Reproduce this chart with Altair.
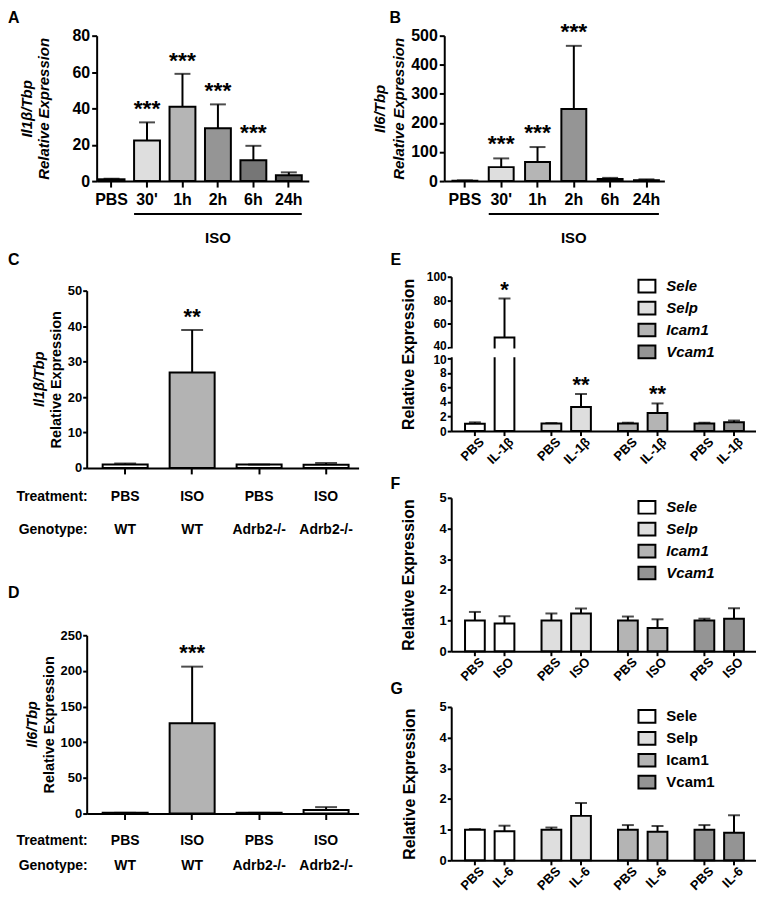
import altair as alt
import pandas as pd

FONT = "Liberation Sans"

# ---------------- Panel A / B : time course after ISO ----------------
time_cats = ["PBS", "30'", "1h", "2h", "6h", "24h"]
time_fill = ["#ffffff", "#dedede", "#b5b5b5", "#959595", "#767676", "#555555"]
a_mean = [1.0, 22.3, 40.9, 29.0, 11.5, 3.2]
a_top = [1.3, 32.3, 59.0, 42.2, 19.4, 4.8]
a_sig = ["", "***", "***", "***", "***", ""]
a_ticks = [0, 20, 40, 60, 80]

b_mean = [1.5, 48.0, 66.0, 248.0, 7.0, 3.0]
b_top = [2.5, 78.0, 117.0, 465.0, 11.0, 6.0]
b_sig = ["", "***", "***", "***", "", ""]
b_ticks = [0, 100, 200, 300, 400, 500]

iso_group = {"start": "30'", "end": "24h", "mid": "2h", "label": "ISO"}

# ---------------- Panel C / D : genotype ----------------
geno_keys = ["PBS-WT", "ISO-WT", "PBS-KO", "ISO-KO"]
geno_treat = ["PBS", "ISO", "PBS", "ISO"]
geno_type = ["WT", "WT", "Adrb2-/-", "Adrb2-/-"]
geno_fill = ["#ffffff", "#b3b3b3", "#ffffff", "#ffffff"]
c_mean = [1.0, 26.9, 0.95, 0.9]
c_top = [1.25, 38.9, 0.95, 1.4]
c_sig = ["", "**", "", ""]
c_ticks = [0, 10, 20, 30, 40, 50]
d_mean = [1.0, 126.6, 1.0, 5.0]
d_top = [1.0, 206.0, 1.0, 9.0]
d_sig = ["", "***", "", ""]
d_ticks = [0, 50, 100, 150, 200, 250]

# ---------------- Panel E / F / G : endothelial genes ----------------
genes = ["Sele", "Selp", "Icam1", "Vcam1"]
gene_fill = ["#ffffff", "#dedede", "#b4b4b4", "#949494"]
conds = ["control", "stimulus"]
e_labels = ["PBS", "IL-1β"]
f_labels = ["PBS", "ISO"]
g_labels = ["PBS", "IL-6"]
e_mean = [1.0, 48.5, 1.05, 3.3, 1.05, 2.5, 1.05, 1.2]
e_top = [1.2, 81.5, 1.1, 5.1, 1.15, 3.8, 1.15, 1.45]
e_sig = ["", "*", "", "**", "", "**", "", ""]
f_mean = [1.0, 0.9, 1.0, 1.23, 1.0, 0.76, 1.0, 1.06]
f_top = [1.28, 1.14, 1.23, 1.39, 1.13, 1.04, 1.06, 1.4]
g_mean = [1.0, 0.95, 1.0, 1.45, 1.0, 0.93, 1.0, 0.9]
g_top = [1.02, 1.13, 1.07, 1.87, 1.15, 1.12, 1.15, 1.47]
fg_ticks = [0, 1, 2, 3, 4, 5]

# broken axis of panel E
E_LOW_MAX = 10
E_HIGH_MIN, E_HIGH_MAX = 40, 100
E_GAP = 1.5
E_K = 0.162
e_low_ticks = [0, 2, 4, 6, 8, 10]
e_high_ticks = [40, 60, 80, 100]


def brk(v):
    return v if v <= E_LOW_MAX else E_LOW_MAX + E_GAP + (v - E_HIGH_MIN) * E_K


def brk_expr(f):
    return (f"datum.{f} <= {E_LOW_MAX} ? datum.{f} : "
            f"{E_LOW_MAX + E_GAP} + (datum.{f} - {E_HIGH_MIN}) * {E_K}")


def axis(**kw):
    d = dict(domainColor="black", domainWidth=2, tickColor="black", tickWidth=2,
             labelColor="black", labelFont=FONT, labelFontWeight="bold",
             titleColor="black", titleFont=FONT, titleFontWeight="bold",
             grid=False, zindex=0, labelOverlap=False)
    d.update(kw)
    return alt.Axis(**d)


def letter_layer(letter, x, y):
    return alt.Chart(pd.DataFrame({"t": [letter]})).mark_text(
        font=FONT, fontSize=16, fontWeight="bold", align="left", baseline="top",
        color="black").encode(text="t:N", x=alt.value(x), y=alt.value(y))


def txt(**kw):
    d = dict(font=FONT, fontWeight="bold", color="black")
    d.update(kw)
    return d


def time_panel(letter, mean, top, sig, ticks, ytitle, W, H, xrange, yoff, pin, pout,
               palign, title_x, title_lh, letter_x, letter_y, star_dy):
    df = pd.DataFrame({"cat": time_cats, "mean": mean, "top": top, "sig": sig,
                       "fill": time_fill})
    xs = alt.Scale(domain=time_cats, range=xrange, paddingInner=pin,
                   paddingOuter=pout, align=palign)
    xax = axis(title=None, labelAngle=0, labelFontSize=16, tickSize=6, labelPadding=5)
    ys = alt.Scale(domain=[ticks[0], ticks[-1]], nice=False)
    yax = axis(values=ticks, title=ytitle, titleFontStyle="italic", titleFontSize=15,
               labelFontSize=16, tickSize=5, labelPadding=2, offset=yoff,
               titleX=title_x, titleY=H / 2, titleAngle=270, titleAlign="center",
               titleBaseline="middle", titleLineHeight=title_lh)

    def X(f, **k):
        return alt.X(f, type="nominal", scale=xs, axis=xax, **k)

    def Y(f):
        return alt.Y(f, type="quantitative", scale=ys, axis=yax)

    base = alt.Chart(df)
    bars = base.mark_bar(stroke="black", strokeWidth=2).encode(
        x=X("cat"), y=Y("mean"), fill=alt.Fill("fill:N", scale=None))
    err = base.mark_rule(color="black", strokeWidth=2).encode(
        x=X("cat"), y=Y("mean"), y2="top:Q")
    cap = base.mark_tick(color="black", thickness=2, size=16).encode(x=X("cat"), y=Y("top"))
    stars = base.mark_text(**txt(fontSize=23, baseline="alphabetic", dy=star_dy)).encode(
        x=X("cat"), y=Y("top"), text="sig:N")
    ann = alt.Chart(pd.DataFrame([iso_group]))
    line = ann.mark_rule(color="black", strokeWidth=2).encode(
        x=X("start", bandPosition=0), x2=alt.X2("end", bandPosition=1),
        y=alt.value(H + 33))
    lab = ann.mark_text(**txt(fontSize=15, baseline="middle")).encode(
        x=X("mid"), y=alt.value(H + 57), text="label:N")
    return alt.layer(bars, err, cap, stars, line, lab,
                     letter_layer(letter, letter_x, letter_y)).properties(width=W, height=H)


def geno_panel(letter, gene_title, mean, top, sig, ticks, W, H, ytop, gene_x, rel_x,
               row1, row2, letter_x, letter_y, star_dy):
    df = pd.DataFrame({"key": geno_keys, "treat": geno_treat, "geno": geno_type,
                       "mean": mean, "top": top, "sig": sig, "fill": geno_fill})
    xs = alt.Scale(domain=geno_keys, paddingInner=0.328, paddingOuter=0.194, align=0.615)
    xax = axis(title=None, labels=False, tickSize=6)
    ys = alt.Scale(domain=[0, ticks[-1]], nice=False, range=[H, ytop])
    mid = (H + ytop) / 2
    yax = axis(values=ticks, title="Relative Expression", titleFontSize=14.5,
               labelFontSize=13, tickSize=4, labelPadding=1, titleX=rel_x,
               titleY=mid, titleAngle=270, titleAlign="center", titleBaseline="middle")

    def X(f):
        return alt.X(f, type="nominal", scale=xs, axis=xax)

    def Y(f):
        return alt.Y(f, type="quantitative", scale=ys, axis=yax)

    base = alt.Chart(df)
    bars = base.mark_bar(stroke="black", strokeWidth=2).encode(
        x=X("key"), y=Y("mean"), fill=alt.Fill("fill:N", scale=None))
    err = base.mark_rule(color="black", strokeWidth=2).encode(
        x=X("key"), y=Y("mean"), y2="top:Q")
    cap = base.mark_tick(color="black", thickness=2, size=22).encode(x=X("key"), y=Y("top"))
    stars = base.mark_text(**txt(fontSize=22, baseline="alphabetic", dy=star_dy)).encode(
        x=X("key"), y=Y("top"), text="sig:N")
    t1 = base.mark_text(**txt(fontSize=14, baseline="middle")).encode(
        x=X("key"), y=alt.value(H + row1), text="treat:N")
    t2 = base.mark_text(**txt(fontSize=14, baseline="middle")).encode(
        x=X("key"), y=alt.value(H + row2), text="geno:N")
    hdr = alt.Chart(pd.DataFrame({"h1": ["Treatment:"], "h2": ["Genotype:"],
                                  "g": [gene_title]}))
    h1 = hdr.mark_text(**txt(fontSize=14, baseline="middle", align="right")).encode(
        x=alt.value(1), y=alt.value(H + row1), text="h1:N")
    h2 = hdr.mark_text(**txt(fontSize=14, baseline="middle", align="right")).encode(
        x=alt.value(1), y=alt.value(H + row2), text="h2:N")
    gt = hdr.mark_text(**txt(fontSize=14.5, fontStyle="italic", angle=270,
                             align="center", baseline="middle")).encode(
        x=alt.value(gene_x), y=alt.value(mid), text="g:N")
    return alt.layer(bars, err, cap, stars, t1, t2, h1, h2, gt,
                     letter_layer(letter, letter_x, letter_y)).properties(width=W, height=H)


def endo_panel(letter, labels, mean, top, sig, W, H, pout, palign, title_x,
               letter_x, letter_y, legend_x, italic, broken=False):
    df = pd.DataFrame({
        "gene": [g for g in genes for _ in conds],
        "cond": conds * len(genes),
        "label": labels * len(genes),
        "mean": mean, "top": top, "sig": sig,
    })
    if broken:
        ys = alt.Scale(domain=[0, brk(E_HIGH_MAX)], nice=False)
        seam = E_LOW_MAX + E_GAP
        extra = dict(values=e_low_ticks + [brk(v) for v in e_high_ticks],
                     labelExpr=(f"datum.value <= {E_LOW_MAX + 0.01} ? format(datum.value, 'd') : "
                                f"format({E_HIGH_MIN} + (datum.value - {seam}) / {E_K}, '.0f')"),
                     labelOffset={"expr": (f"abs(datum.value - {E_LOW_MAX}) < 0.01 ? 1.5 : "
                                           f"abs(datum.value - {seam}) < 0.01 ? -1.5 : 0")},
                     labelFontSize=12)
        base = alt.Chart(df).transform_calculate(ym=brk_expr("mean"), yt=brk_expr("top"))
    else:
        ys = alt.Scale(domain=[0, fg_ticks[-1]], nice=False)
        extra = dict(values=fg_ticks, labelFontSize=13)
        base = alt.Chart(df).transform_calculate(ym="datum.mean", yt="datum.top")
    yax = axis(title="Relative Expression", titleFontSize=16,
               tickSize=4, labelPadding=1, titleX=title_x, titleY=H / 2,
               titleAngle=270, titleAlign="center", titleBaseline="middle", **extra)
    xs = alt.Scale(domain=genes, paddingInner=0.2, paddingOuter=pout, align=palign)
    xax = axis(title=None, labels=False, ticks=False)
    os_ = alt.Scale(domain=conds, paddingInner=0.333, paddingOuter=0.2)

    X = alt.X("gene:N", scale=xs, axis=xax)
    XO = alt.XOffset("cond:N", scale=os_)

    def Y(f):
        return alt.Y(f, type="quantitative", scale=ys, axis=yax)

    legend = alt.Legend(title=None, orient="none", legendX=legend_x, legendY=0,
                        symbolType="M-1,-0.75H1V0.75H-1Z", symbolSize=289,
                        symbolStrokeColor="black", symbolStrokeWidth=2, symbolOpacity=1,
                        labelFont=FONT, labelFontSize=15, labelFontWeight="bold",
                        labelFontStyle="italic" if italic else "normal",
                        labelColor="black", labelOffset=10, rowPadding=1, padding=0)
    bars = base.mark_bar(stroke="black", strokeWidth=2).encode(
        x=X, xOffset=XO, y=Y("ym"),
        fill=alt.Fill("gene:N", scale=alt.Scale(domain=genes, range=gene_fill), legend=legend))
    err = base.mark_rule(color="black", strokeWidth=2).encode(
        x=X, xOffset=XO, y=Y("ym"), y2="yt:Q")
    cap = base.mark_tick(color="black", thickness=2, size=12).encode(x=X, xOffset=XO, y=Y("yt"))
    ticks = base.mark_rule(color="black", strokeWidth=2).encode(
        x=X, xOffset=XO, y=alt.value(H), y2=alt.value(H + 5))
    xl = base.mark_text(**txt(fontSize=13, angle=315, align="right", baseline="middle",
                              dx=5, dy=5)).encode(
        x=X, xOffset=XO, y=alt.value(H + 9), text="label:N")
    layers = [bars, err, cap, ticks, xl]
    if broken:
        stars = base.mark_text(**txt(fontSize=22, baseline="alphabetic", dy=-2)).encode(
            x=X, xOffset=XO, y=Y("yt"), text="sig:N")
        mask = alt.Chart(pd.DataFrame({"lo": [E_LOW_MAX + 0.14],
                                       "hi": [E_LOW_MAX + E_GAP - 0.14]})).mark_rect(
            color="white").encode(y=Y("lo"), y2="hi:Q", x=alt.value(-2), x2=alt.value(W))
        layers += [stars, mask]
    layers.append(letter_layer(letter, letter_x, letter_y))
    return alt.layer(*layers).properties(width=W, height=H)


A = time_panel("A", a_mean, a_top, a_sig, a_ticks, ["Il1β/Tbp", "Relative Expression"],
               223, 146, [10, 223], -10, 0.27, 0.127, 0.22, -70, 16.6, -79, -26, -6)
B = time_panel("B", b_mean, b_top, b_sig, b_ticks, ["Il6/Tbp", "Relative Expression"],
               221, 146, [0, 221], 0, 0.314, 0.188, 0.6, -65, 19, -55, -26, -7)
C = geno_panel("C", "Il1β/Tbp", c_mean, c_top, c_sig, c_ticks, 273, 192, 14, -47, -30,
               29, 62, -79, -25, -6)
D = geno_panel("D", "Il6/Tbp", d_mean, d_top, d_sig, d_ticks, 273, 179, 0, -54, -37,
               27.5, 53, -79, -50, -6.5)
E = endo_panel("E", e_labels, e_mean, e_top, e_sig, 306, 155, 0.092, 0.56, -43,
               -61, -25, 187, True, broken=True)
F = endo_panel("F", f_labels, f_mean, f_top, ["" for _ in f_mean], 306, 154, 0.092, 0.56,
               -43, -61, -22, 187, True)
G = endo_panel("G", g_labels, g_mean, g_top, ["" for _ in g_mean], 306, 154, 0.092, 0.56,
               -42, -61, -26, 187, False)

row1 = alt.hconcat(A, B, spacing=64)
left = alt.vconcat(C, D, spacing=49)
fg = alt.vconcat(F, G, spacing=-3).resolve_scale(fill="independent")
right = alt.vconcat(E, fg, spacing=9).resolve_scale(fill="independent")
row2 = alt.hconcat(left, right, spacing=32).resolve_scale(fill="independent")
chart = alt.vconcat(row1, row2, spacing=6).resolve_scale(fill="independent").properties(
    padding=0, background="white").configure_view(stroke=None)

chart.save("out.html", embed_options={"renderer": "svg", "actions": False})
